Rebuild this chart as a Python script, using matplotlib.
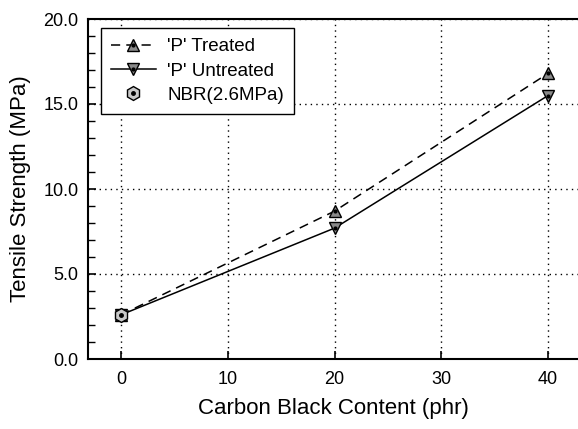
import matplotlib
matplotlib.use("Agg")
import matplotlib.pyplot as plt
from matplotlib.ticker import MultipleLocator, FormatStrFormatter

plt.rcParams['font.family'] = ['Liberation Sans', 'DejaVu Sans']

x_cb = [0, 20, 40]
treated = [2.6, 8.7, 16.8]
untreated = [2.6, 7.7, 15.5]
nbr_x = [0]
nbr_y = [2.6]
labels = ["'P' Treated", "'P' Untreated", "NBR(2.6MPa)"]

fig = plt.figure(figsize=(5.78, 4.29), dpi=100)
ax = fig.add_axes([88/578, 1-359/429, (578-88)/578, (359-19)/429])

l1, = ax.plot(x_cb, treated, color='black', ls=(0, (6, 4)), lw=1.1,
              marker='^', ms=8, mfc='#8a8a8a', mec='black', mew=1.0, zorder=3)
l2, = ax.plot(x_cb, untreated, color='black', ls='-', lw=1.1,
              marker='v', ms=8, mfc='#8a8a8a', mec='black', mew=1.0, zorder=3)
d1, = ax.plot(x_cb[1:], treated[1:], ls='none', marker='o', ms=2, color='black', zorder=4)
d2, = ax.plot(x_cb[1:], untreated[1:], ls='none', marker='o', ms=2, color='black', zorder=4)
l3, = ax.plot(nbr_x, nbr_y, ls='none', marker='h', ms=10, mfc='#c8c8c8',
              mec='black', mew=1.0, zorder=5)
d3, = ax.plot(nbr_x, nbr_y, ls='none', marker='o', ms=2.5, color='black', zorder=6)

ax.set_xlim(-3.1, 42.8)
ax.set_ylim(0, 20)
ax.xaxis.set_major_locator(MultipleLocator(10))
ax.yaxis.set_major_locator(MultipleLocator(5))
ax.yaxis.set_minor_locator(MultipleLocator(1))
ax.yaxis.set_major_formatter(FormatStrFormatter('%.1f'))
ax.tick_params(axis='both', which='major', direction='in', length=6, width=1.2,
               labelsize=13, top=False, right=False)
ax.tick_params(axis='x', pad=9)
ax.tick_params(axis='y', pad=7)
ax.tick_params(axis='y', which='minor', direction='in', length=5, width=1.0)
ax.grid(True, which='major', ls=(0, (1, 3)), color='black', lw=1.0)
for s in ax.spines.values():
    s.set_linewidth(1.5)
ax.spines['right'].set_visible(False)

ax.set_xlabel('Carbon Black Content (phr)', fontsize=16, labelpad=7)
ax.set_ylabel('Tensile Strength (MPa)', fontsize=16, labelpad=9)

leg = ax.legend([(l1, d1), (l2, d2), (l3, d3)], labels, loc='upper left',
                bbox_to_anchor=(0.018, 0.985),
                fontsize=13.5, frameon=True, fancybox=False, edgecolor='black',
                framealpha=1, handlelength=2.4, handletextpad=0.6,
                borderpad=0.55, labelspacing=0.38, borderaxespad=0.2)
leg.get_frame().set_linewidth(1.0)

fig.savefig('out.png', dpi=100)
